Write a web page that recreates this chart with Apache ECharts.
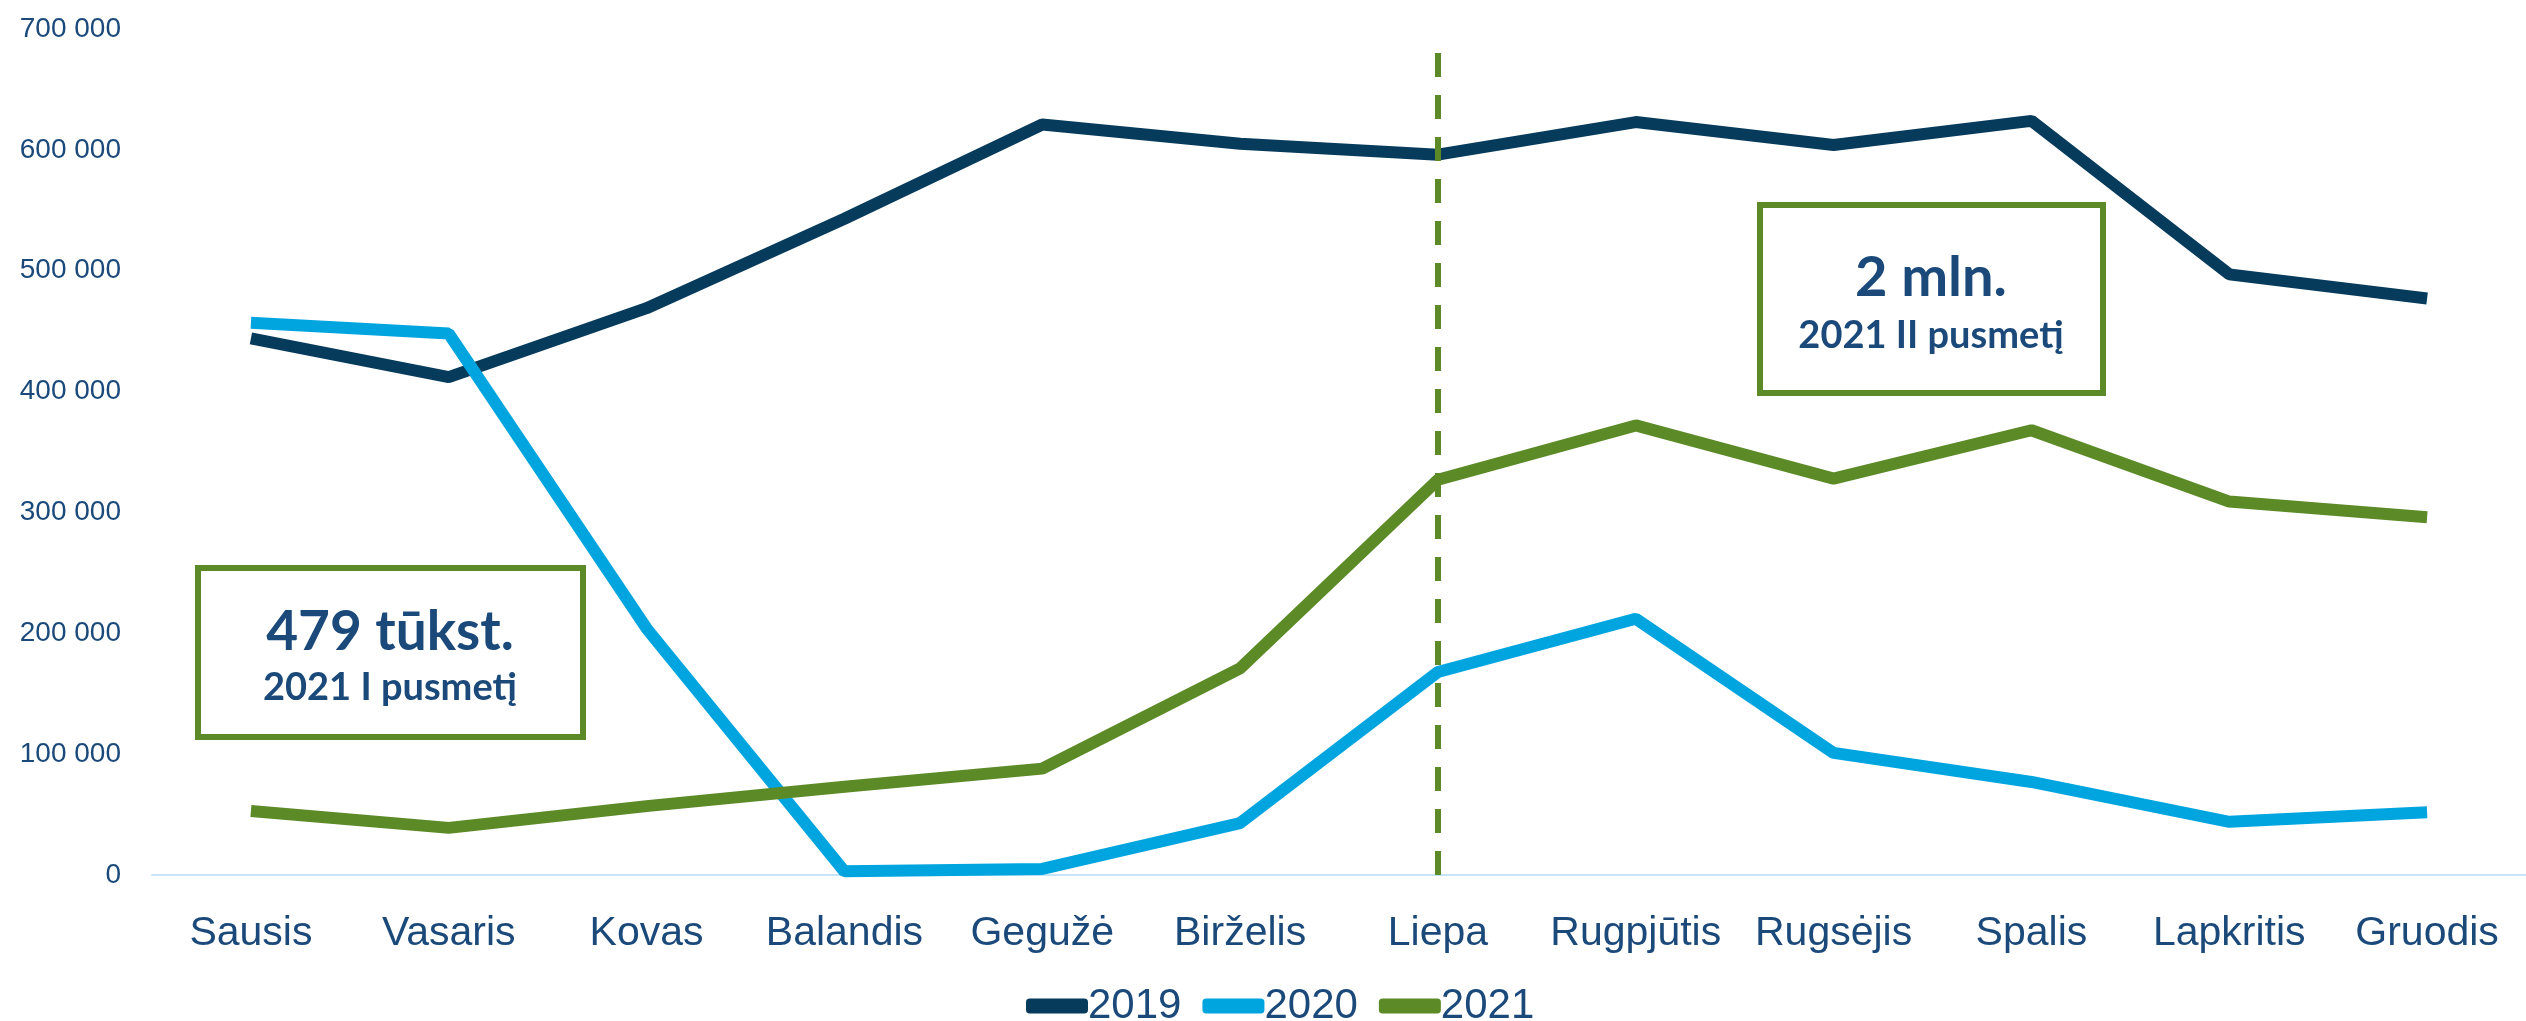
<!DOCTYPE html>
<html>
<head>
<meta charset="utf-8">
<script src="https://cdn.jsdelivr.net/npm/echarts@6/dist/echarts.min.js"></script>
<style>html,body{margin:0;padding:0;background:#fff;}#c{width:2526px;height:1021px;}</style>
</head>
<body>
<div id="c"></div>
<script>
const months = ['Sausis','Vasaris','Kovas','Balandis','Gegužė','Birželis','Liepa','Rugpjūtis','Rugsėjis','Spalis','Lapkritis','Gruodis'];
const seriesNames = ['2019','2020','2021'];
const values2019 = [444000,412000,469000,543000,621000,605000,596000,623000,604000,624000,497000,477000];
const values2020 = [457000,448000,204000,3000,5000,43000,168000,212000,101000,77000,44000,52000];
const values2021 = [53000,39000,57000,73000,88000,171000,327000,372000,328000,368000,309000,296000];
const yTicks = {min:0, max:700000, interval:100000};
const dividerMonth = 'Liepa';
const dividerTop = 684000;
const box1Lines = ['479 tūkst.','2021 I pusmetį'];
const box2Lines = ['2 mln.','2021 II pusmetį'];

const C19 = '#073b5c', C20 = '#00a5e0', C21 = '#5b8a27', TXT = '#1b4a7a';
const sans = '"Liberation Sans",Arial,sans-serif';

const chart = echarts.init(document.getElementById('c'), null, {renderer:'canvas'});
function fmt(v){return String(v).replace(/\B(?=(\d{3})+(?!\d))/g,' ');}

chart.setOption({
  animation:false,
  backgroundColor:'#fff',
  grid:{left:152,right:0,top:29,bottom:146},
  legend:{
    data:seriesNames, left:1021, top:980, itemWidth:62, itemHeight:15, itemGap:21,
    icon:'roundRect',
    textStyle:{color:TXT,fontSize:42,fontFamily:sans,padding:[0,0,0,-5]}
  },
  xAxis:{
    type:'category', data:months, boundaryGap:true,
    axisLine:{lineStyle:{color:'#c5e4f5',width:2}},
    axisTick:{show:false},
    axisLabel:{color:TXT,fontSize:41,fontFamily:sans,margin:38,interval:0}
  },
  yAxis:{
    type:'value', min:yTicks.min, max:yTicks.max, interval:yTicks.interval,
    splitLine:{show:false}, axisLine:{show:false}, axisTick:{show:false},
    axisLabel:{color:TXT,fontSize:28,fontFamily:sans,margin:31,formatter:fmt}
  },
  series:[
    {name:'2019',type:'line',data:values2019,symbol:'none',color:C19,lineStyle:{width:12,color:C19}},
    {name:'2020',type:'line',data:values2020,symbol:'none',color:C20,lineStyle:{width:12,color:C20}},
    {name:'2021',type:'line',data:values2021,symbol:'none',color:C21,lineStyle:{width:12,color:C21},
     markLine:{silent:true,symbol:['none','none'],label:{show:false},
       lineStyle:{color:C21,width:6,type:[24,18]},
       data:[[{coord:[dividerMonth,0]},{coord:[dividerMonth,dividerTop]}]]}}
  ],
  graphic:[
    {type:'rect',shape:{x:198,y:568,width:385,height:169},style:{fill:'#fff',stroke:C21,lineWidth:6},z:100},
    {type:'text',x:390,y:632,style:{text:box1Lines[0],fill:TXT,font:'bold 55px Lato, sans-serif',textAlign:'center',textVerticalAlign:'middle'},z:101},
    {type:'text',x:390,y:688,style:{text:box1Lines[1],fill:TXT,font:'bold 38px Lato, sans-serif',textAlign:'center',textVerticalAlign:'middle'},z:101},
    {type:'rect',shape:{x:1760,y:205,width:343,height:188},style:{fill:'#fff',stroke:C21,lineWidth:6},z:100},
    {type:'text',x:1931,y:278,style:{text:box2Lines[0],fill:TXT,font:'bold 56px Lato, sans-serif',textAlign:'center',textVerticalAlign:'middle'},z:101},
    {type:'text',x:1931,y:336,style:{text:box2Lines[1],fill:TXT,font:'bold 38px Lato, sans-serif',textAlign:'center',textVerticalAlign:'middle'},z:101}
  ]
});
</script>
</body>
</html>
